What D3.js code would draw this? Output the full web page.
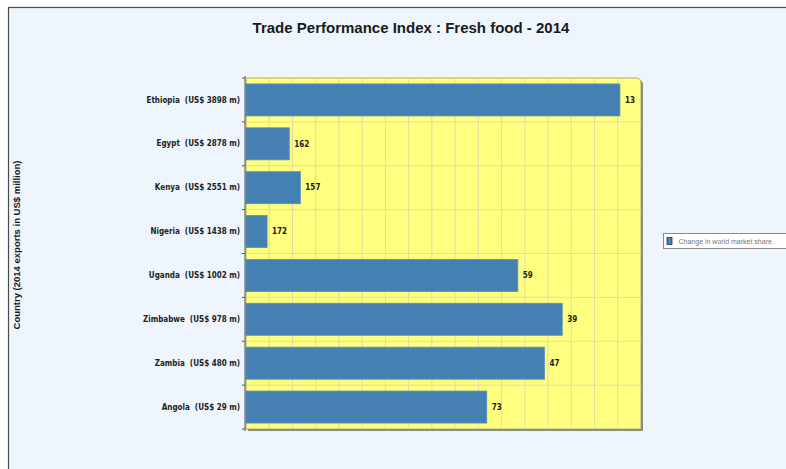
<!DOCTYPE html>
<html>
<head>
<meta charset="utf-8">
<script src="https://cdn.jsdelivr.net/npm/d3@7"></script>
<style>
  html, body { margin: 0; padding: 0; background: #ffffff; }
  svg { display: block; }
  text { white-space: pre; }
</style>
</head>
<body>
<svg id="chart" width="786" height="469"></svg>
<script>
// ---- data ----
const categories = [
  "Ethiopia  (US$ 3898 m)",
  "Egypt  (US$ 2878 m)",
  "Kenya  (US$ 2551 m)",
  "Nigeria  (US$ 1438 m)",
  "Uganda  (US$ 1002 m)",
  "Zimbabwe  (US$ 978 m)",
  "Zambia  (US$ 480 m)",
  "Angola  (US$ 29 m)"
];
// bar lengths as drawn (axis units)
const barValues = [168.5, 19.5, 24.5, 9.5, 122.5, 142.5, 134.5, 108.5];
// labels printed at the bar ends (rank of change in world market share)
const barLabels = ["13", "162", "157", "172", "59", "39", "47", "73"];
const seriesName = "Change in world market share";
const titleText = "Trade Performance Index : Fresh food - 2014";
const yTitleText = "Country (2014 exports in US$ million)";
const xMax = 178;
const gridCount = 17;

// ---- layout ----
const svg = d3.select("#chart");
const W = 786, H = 469;
const plot = { left: 246, top: 78, right: 641, bottom: 429 };

// outer frame
svg.append("rect").attr("x", 0).attr("y", 0).attr("width", W).attr("height", H).attr("fill", "#ffffff");
svg.append("rect").attr("x", 8.5).attr("y", 7.5).attr("width", W + 10).attr("height", H + 10)
  .attr("fill", "#eef5fd").attr("stroke", "#4a4a4a").attr("stroke-width", 1.2);

const x = d3.scaleLinear().domain([0, xMax]).range([plot.left, plot.right]);
const y = d3.scaleBand().domain(categories).range([plot.top, plot.bottom])
  .paddingInner(0.27).paddingOuter(0.135);

// plot background with shadow
const r = 5;
function roundedTopRight(x0, y0, x1, y1) {
  return `M${x0},${y0} H${x1 - r} Q${x1},${y0} ${x1},${y0 + r} V${y1} H${x0} Z`;
}
svg.append("path").attr("d", roundedTopRight(plot.left + 2, plot.top + 2, plot.right + 2, plot.bottom + 2))
  .attr("fill", "#8a8a8a");
svg.append("path").attr("d", roundedTopRight(plot.left, plot.top, plot.right, plot.bottom))
  .attr("fill", "#ffff80").attr("stroke", "#9a9a6a").attr("stroke-width", 0.8);

// vertical gridlines
const gridVals = d3.range(1, gridCount).map(i => i * xMax / gridCount);
svg.append("g").selectAll("line").data(gridVals).join("line")
  .attr("x1", d => x(d)).attr("x2", d => x(d))
  .attr("y1", plot.top + 1).attr("y2", plot.bottom)
  .attr("stroke", "#dede9c").attr("stroke-width", 1);

// horizontal gridlines at band boundaries
const bandEdges = categories.slice(1).map(c => y(c) - y.step() * y.paddingInner() / 2);
svg.append("g").selectAll("line").data(bandEdges).join("line")
  .attr("x1", plot.left).attr("x2", plot.right)
  .attr("y1", d => d).attr("y2", d => d)
  .attr("stroke", "#dede9c").attr("stroke-width", 1);

// bars
svg.append("g").selectAll("rect").data(categories).join("rect")
  .attr("x", x(0))
  .attr("y", d => y(d))
  .attr("width", (d, i) => x(barValues[i]) - x(0))
  .attr("height", y.bandwidth())
  .attr("fill", "#4580b3")
  .attr("stroke", "#5a90bf").attr("stroke-width", 0.8);

// value labels
svg.append("g").selectAll("text").data(categories).join("text")
  .attr("x", (d, i) => x(barValues[i]) + 5)
  .attr("y", d => y(d) + y.bandwidth() / 2)
  .attr("dy", "0.35em")
  .attr("font-family", "'Liberation Sans Narrow', 'DejaVu Sans Condensed', Arial, sans-serif")
  .attr("font-weight", "bold")
  .attr("font-size", "8px")
  .attr("fill", "#1a1a1a")
  .text((d, i) => barLabels[i]);

// y axis
const yAxis = d3.axisLeft(y).tickSize(0).tickPadding(5);
const gy = svg.append("g").attr("transform", `translate(${plot.left - 1},0)`).call(yAxis);
gy.select(".domain").attr("stroke", "#555").attr("d", `M0,${plot.top - 2}V${plot.bottom + 2}`);
gy.selectAll("text")
  .attr("font-family", "'Liberation Sans Narrow', 'DejaVu Sans Condensed', Arial, sans-serif")
  .attr("font-weight", "bold")
  .attr("font-size", "8px")
  .attr("fill", "#222")
  .attr("xml:space", "preserve")
  .style("white-space", "pre");
// small tick marks at band boundaries
const tickYs = [plot.top].concat(bandEdges).concat([plot.bottom]);
svg.append("g").selectAll("line").data(tickYs).join("line")
  .attr("x1", plot.left - 4).attr("x2", plot.left - 1)
  .attr("y1", d => d).attr("y2", d => d)
  .attr("stroke", "#555").attr("stroke-width", 1);

// title
svg.append("text")
  .attr("x", 411).attr("y", 33)
  .attr("text-anchor", "middle")
  .attr("font-family", "'Liberation Sans', Arial, sans-serif")
  .attr("font-weight", "bold")
  .attr("font-size", "15px")
  .attr("fill", "#1a1a1a")
  .text(titleText);

// y title
svg.append("text")
  .attr("transform", "translate(20,245) rotate(-90)")
  .attr("text-anchor", "middle")
  .attr("font-family", "'Liberation Sans', Arial, sans-serif")
  .attr("font-weight", "bold")
  .attr("font-size", "9.5px")
  .attr("fill", "#1a1a1a")
  .text(yTitleText);

// legend
const lg = svg.append("g").attr("transform", "translate(663.5,233.5)");
lg.append("rect").attr("width", 140).attr("height", 15)
  .attr("fill", "#ffffff").attr("stroke", "#8a8a8a").attr("stroke-width", 1);
lg.append("rect").attr("x", 3.5).attr("y", 4).attr("width", 5).attr("height", 7)
  .attr("fill", "#4580b3").attr("stroke", "#1f3a5a").attr("stroke-width", 0.8);
lg.append("text").attr("x", 15).attr("y", 8).attr("dy", "0.35em")
  .attr("font-family", "'Liberation Sans', Arial, sans-serif")
  .attr("font-size", "7px").attr("fill", "#777")
  .text(seriesName);
</script>
</body>
</html>
